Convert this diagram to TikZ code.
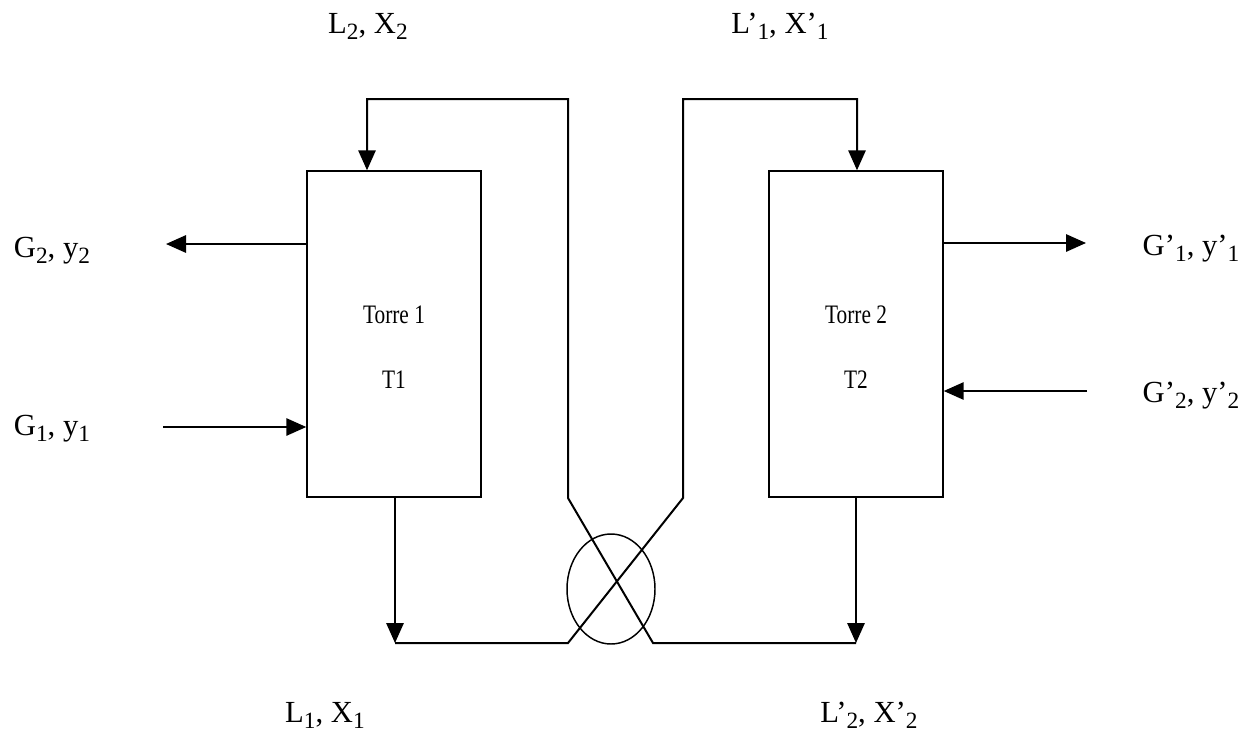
\documentclass[tikz,border=0pt]{standalone}
\usepackage{graphicx}
\usepackage{fontspec}
\setmainfont{Liberation Serif}
\usetikzlibrary{arrows.meta,shapes.geometric}
\newcommand\lo[1]{\raisebox{-4.5pt}{\fontsize{17.5}{18}\selectfont #1}}
\begin{document}
\begin{tikzpicture}[x=0.75pt,y=-0.75pt,
  tower/.style={draw, line width=1.1pt, minimum width=130.5pt, minimum height=244.5pt, inner sep=0pt},
  flow/.style={line width=1.5pt, -{Triangle[length=15pt,width=13pt]}},
  lbl/.style={font=\fontsize{23}{27}\selectfont, anchor=base, inner sep=0pt},
  tlbl/.style={font=\fontsize{20}{24}\selectfont, anchor=base, inner sep=0pt},
  valve/.style={ellipse, draw, line width=1.1pt, minimum width=66pt, minimum height=82.5pt, inner sep=0pt}]
\useasboundingbox (0,0) rectangle (1245,736);

% towers
\node[tower] (t1) at (394,334) {};
\node[tower] (t2) at (856,334) {};
\node[tlbl] (t1a) at (394,323) {\scalebox{0.8}[1]{Torre 1}};
\node[tlbl] (t1b) at (394,388) {\scalebox{0.8}[1]{T1}};
\node[tlbl] (t2a) at (856,323) {\scalebox{0.8}[1]{Torre 2}};
\node[tlbl] (t2b) at (856,388) {\scalebox{0.8}[1]{T2}};

% valve
\node[valve] (valve) at (611,589) {};

% pipe coordinates
\coordinate (a1) at (395,643);
\coordinate (a2) at (568,643);
\coordinate (a3) at (683,498);
\coordinate (a4) at (683,99);
\coordinate (a5) at (857,99);
\coordinate (b1) at (856,643);
\coordinate (b2) at (653,643);
\coordinate (b3) at (568,498);
\coordinate (b4) at (568,99);
\coordinate (b5) at (367,99);

\draw[flow] (t1.south -| a1) -- (a1);
\draw[flow] (a1) -- (a2) -- (a3) -- (a4) -- (a5) -- (t2.north -| a5);
\draw[flow] (t2.south -| b1) -- (b1);
\draw[flow] (b1) -- (b2) -- (b3) -- (b4) -- (b5) -- (t1.north -| b5);

% gas streams
\coordinate (g2a) at (166,244);
\coordinate (g1a) at (163,427);
\coordinate (gp1a) at (1086,243);
\coordinate (gp2a) at (1087,391);
\draw[flow] (t1.west |- g2a) -- (g2a);
\draw[flow] (g1a) -- (t1.west |- g1a);
\draw[flow] (t2.east |- gp1a) -- (gp1a);
\draw[flow] (gp2a) -- (t2.east |- gp2a);

% labels
\node[lbl] (l2) at (368,33) {L\lo{2}, X\lo{2}};
\node[lbl] (lp1) at (780,33) {L’\lo{1}, X’\lo{1}};
\node[lbl] (g2) at (52,257) {G\lo{2}, y\lo{2}};
\node[lbl] (g1) at (52,435) {G\lo{1}, y\lo{1}};
\node[lbl] (gp1) at (1191,255) {G’\lo{1}, y’\lo{1}};
\node[lbl] (gp2) at (1191,402) {G’\lo{2}, y’\lo{2}};
\node[lbl] (l1) at (325,722) {L\lo{1}, X\lo{1}};
\node[lbl] (lp2) at (869,722) {L’\lo{2}, X’\lo{2}};
\end{tikzpicture}
\end{document}
